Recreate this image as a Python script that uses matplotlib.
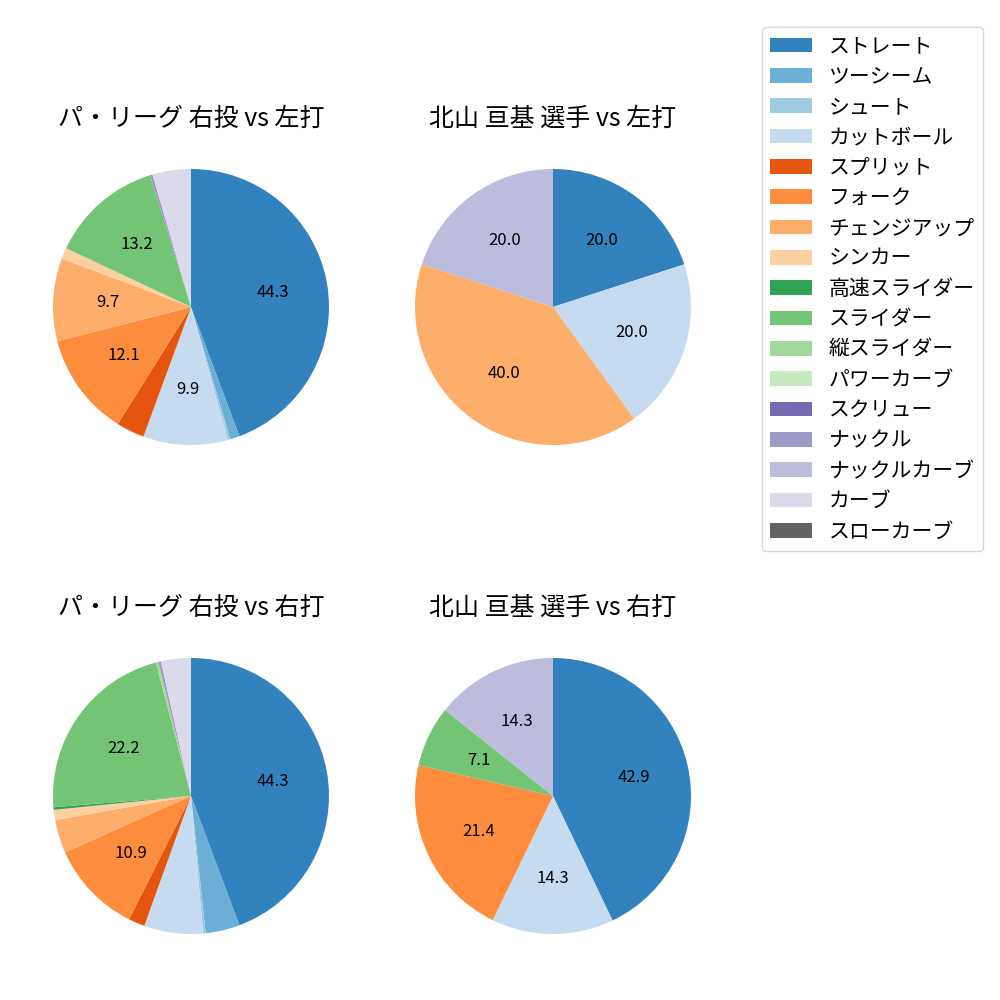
import matplotlib
matplotlib.use("Agg")
import matplotlib.pyplot as plt
from matplotlib.patches import Patch

plt.rcParams['font.family'] = ['Noto Sans CJK JP', 'DejaVu Sans']

pitch_types = ["ストレート", "ツーシーム", "シュート", "カットボール", "スプリット", "フォーク",
               "チェンジアップ", "シンカー", "高速スライダー", "スライダー", "縦スライダー",
               "パワーカーブ", "スクリュー", "ナックル", "ナックルカーブ", "カーブ", "スローカーブ"]
colors = plt.get_cmap("tab20c").colors[:17]

titles = ["パ・リーグ 右投 vs 左打", "北山 亘基 選手 vs 左打",
          "パ・リーグ 右投 vs 右打", "北山 亘基 選手 vs 右打"]

# values in pitch_types order
league_vs_left = [44.3, 1.1, 0.3, 9.9, 3.3, 12.1, 9.7, 1.3, 0.0, 13.2, 0.0, 0.0, 0.0, 0.3, 0.0, 4.5, 0.0]
player_vs_left = [20.0, 0.0, 0.0, 20.0, 0.0, 0.0, 40.0, 0.0, 0.0, 0.0, 0.0, 0.0, 0.0, 0.0, 20.0, 0.0, 0.0]
league_vs_right = [44.3, 4.0, 0.3, 6.9, 1.9, 10.9, 3.9, 1.2, 0.3, 22.2, 0.3, 0.0, 0.0, 0.3, 0.0, 3.5, 0.0]
player_vs_right = [42.9, 0.0, 0.0, 14.3, 0.0, 21.4, 0.0, 0.0, 0.0, 7.1, 0.0, 0.0, 0.0, 0.0, 14.3, 0.0, 0.0]

datasets = [league_vs_left, player_vs_left, league_vs_right, player_vs_right]

fig = plt.figure(figsize=(10, 10), dpi=100)
positions = [
    [0.0185, 0.5205, 0.345, 0.345],
    [0.3805, 0.5205, 0.345, 0.345],
    [0.0185, 0.0315, 0.345, 0.345],
    [0.3805, 0.0315, 0.345, 0.345],
]

def autopct(p):
    return f"{p:.1f}" if p >= 7 else ""

for pos, vals, title in zip(positions, datasets, titles):
    ax = fig.add_axes(pos)
    vs = [v for v in vals if v > 0]
    cs = [c for v, c in zip(vals, colors) if v > 0]
    ax.pie(vs, colors=cs, startangle=90, counterclock=False, autopct=autopct,
           textprops={'fontsize': 12})
    ax.set_title(title, fontsize=18)

handles = [Patch(facecolor=c, label=l) for c, l in zip(colors, pitch_types)]
fig.legend(handles=handles, loc='upper right', bbox_to_anchor=(0.983, 0.973),
           borderaxespad=0, fontsize=15, labelspacing=0.4)

fig.savefig("out.png", dpi=100)
